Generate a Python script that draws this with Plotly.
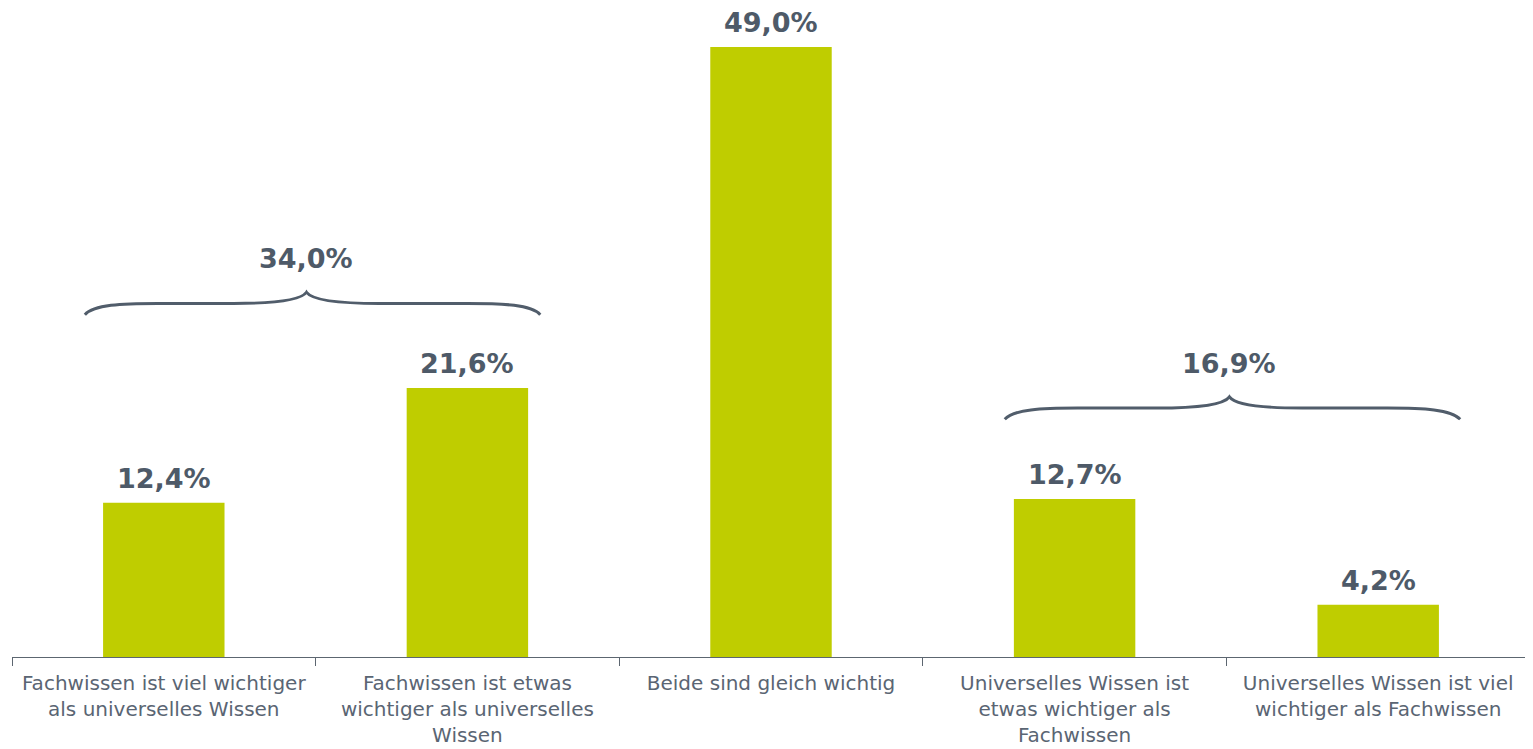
import plotly.graph_objects as go

categories = [
    "Fachwissen ist viel wichtiger<br>als universelles Wissen",
    "Fachwissen ist etwas<br>wichtiger als universelles<br>Wissen",
    "Beide sind gleich wichtig",
    "Universelles Wissen ist<br>etwas wichtiger als<br>Fachwissen",
    "Universelles Wissen ist viel<br>wichtiger als Fachwissen",
]
values = [12.4, 21.6, 49.0, 12.7, 4.2]
value_labels = ["12,4%", "21,6%", "49,0%", "12,7%", "4,2%"]

group_labels = ["34,0%", "16,9%"]
# brace spans in category-index units and heights in value units
group_x0 = [-0.26, 2.77]
group_x1 = [1.24, 4.27]
group_tip = [0.47, 3.51]
group_y = [28.4, 20.0]

BAR = "#bfcd00"
TXT = "#4e5a68"
FONT = "Verdana, DejaVu Sans, sans-serif"

xs = list(range(len(categories)))

fig = go.Figure()
fig.add_trace(go.Bar(
    x=xs, y=values, width=0.4, marker=dict(color=BAR, line=dict(width=0)),
    hoverinfo="skip",
))
for x, v, lab in zip(xs, values, value_labels):
    fig.add_annotation(x=x, y=v, text=f"<b>{lab}</b>", showarrow=False,
                       xref="x", yref="y", yanchor="bottom", yshift=7,
                       font=dict(family=FONT, size=27, color=TXT))

def brace(x0, x1, xt, y):
    d = 0.9   # vertical offset of end and tip
    c = 0.12  # curvature horizontal extent
    return (f"M {x0},{y-d} C {x0+0.03},{y-0.1} {x0+c},{y} {x0+c*2},{y} "
            f"L {xt-c*2},{y} C {xt-c},{y} {xt-0.02},{y+0.2} {xt},{y+d} "
            f"C {xt+0.02},{y+0.2} {xt+c},{y} {xt+c*2},{y} "
            f"L {x1-c*2},{y} C {x1-c},{y} {x1-0.03},{y-0.1} {x1},{y-d}")

for lab, a, b, t, y in zip(group_labels, group_x0, group_x1, group_tip, group_y):
    fig.add_shape(type="path", path=brace(a, b, t, y), xref="x", yref="y",
                  line=dict(color="#515d6b", width=3))
    fig.add_annotation(x=t, y=y + 3.6, text=f"<b>{lab}</b>", showarrow=False,
                       xref="x", yref="y",
                       font=dict(family=FONT, size=27, color=TXT))

fig.update_layout(
    width=1525, height=741,
    margin=dict(l=4, r=3, t=39, b=92, autoexpand=False),
    paper_bgcolor="white", plot_bgcolor="white",
    showlegend=False,
    xaxis=dict(
        range=[-0.5, 4.5], tickmode="array", tickvals=xs, ticktext=categories,
        ticks="", showgrid=False, zeroline=False, automargin=False,
        showline=True, linecolor="#5c6670", linewidth=1,
        ticklabelstandoff=8,
        tickfont=dict(family=FONT, size=20, color="#5a6573"),
        minor=dict(tickmode="array", tickvals=[-0.5, 0.5, 1.5, 2.5, 3.5, 4.5],
                   ticks="outside", ticklen=8, tickcolor="#5c6670", tickwidth=1,
                   showgrid=False),
    ),
    yaxis=dict(range=[0, 49], visible=False, showgrid=False, zeroline=False),
    font=dict(family=FONT),
)

fig.write_html("out.html")
